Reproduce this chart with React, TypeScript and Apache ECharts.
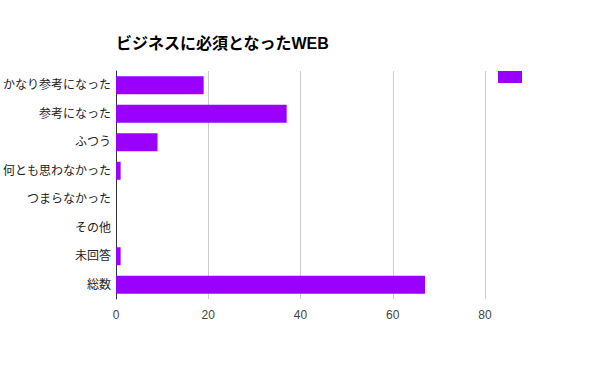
import React, { useEffect, useRef } from "react";
import * as echarts from "echarts";

const categories = ["かなり参考になった", "参考になった", "ふつう", "何とも思わなかった", "つまらなかった", "その他", "未回答", "総数"];
const values = [19, 37, 9, 1, 0, 0, 1, 67];
const xTicks = [0, 20, 40, 60, 80];

export default function App() {
  const ref = useRef<HTMLDivElement>(null);
  useEffect(() => {
    const chart = echarts.init(ref.current!, undefined, { renderer: "svg" });
    chart.setOption({
      animation: false,
      textStyle: { fontFamily: "Arial, 'Liberation Sans', 'Noto Sans CJK JP', sans-serif" },
      title: {
        text: "ビジネスに必須となったWEB",
        left: 116,
        top: 35,
        padding: 0,
        textStyle: { fontSize: 16, fontWeight: "bold", color: "#000" },
      },
      legend: {
        left: 498,
        top: 71,
        padding: 0,
        itemWidth: 24,
        itemHeight: 12,
        itemGap: 0,
        icon: "rect",
        data: [{ name: " " }],
        textStyle: { fontSize: 12, color: "#000" },
        selectedMode: false,
      },
      grid: { left: 115.5, right: 115, top: 71, height: 228, containLabel: false },
      xAxis: {
        type: "value",
        min: xTicks[0],
        max: xTicks[xTicks.length - 1],
        interval: 20,
        axisLine: { show: false },
        axisTick: { show: false },
        splitLine: { show: true, lineStyle: { color: "#cccccc", width: 1 } },
        axisLabel: { color: "#444", fontSize: 12, margin: 10 },
      },
      yAxis: {
        type: "category",
        data: categories,
        inverse: true,
        axisLine: { show: true, lineStyle: { color: "#333", width: 1 } },
        axisTick: { show: false },
        axisLabel: { color: "#222", fontSize: 12, margin: 5 },
      },
      series: [
        {
          name: " ",
          type: "bar",
          data: values,
          barWidth: 18,
          itemStyle: { color: "#9900ff" },
        },
      ],
    });
    return () => chart.dispose();
  }, []);
  return <div ref={ref} style={{ width: 600, height: 371, position: "absolute", left: 0, top: 0 }} />;
}
